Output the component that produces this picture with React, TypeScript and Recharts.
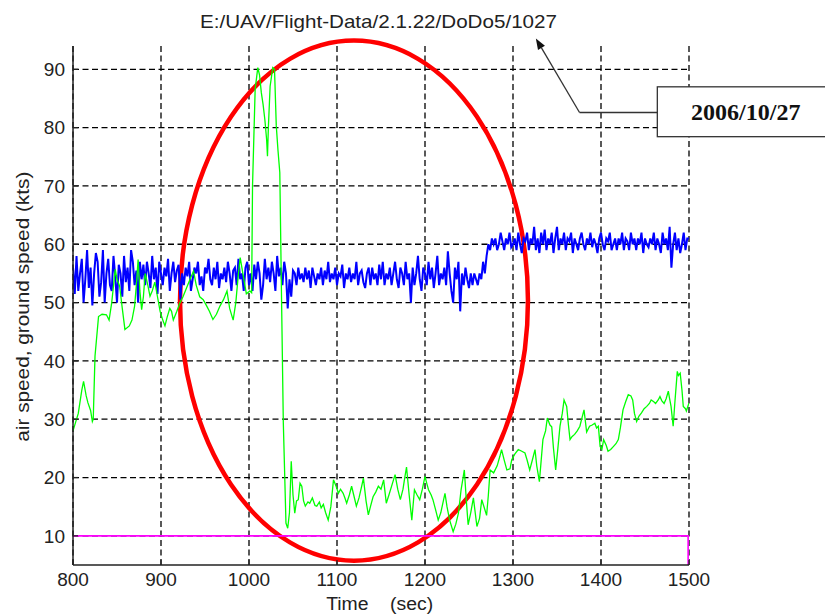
import React from 'react';
import { LineChart, Line, XAxis, YAxis, CartesianGrid, ReferenceArea, ReferenceLine } from 'recharts';

const xTicks = [800, 900, 1000, 1100, 1200, 1300, 1400, 1500];
const yTicks = [10, 20, 30, 40, 50, 60, 70, 80, 90];

const titleText = 'E:/UAV/Flight-Data/2.1.22/DoDo5/1027';
const xLabelText = 'Time    (sec)';
const yLabelText = 'air speed, ground speed (kts)';
const dateText = '2006/10/27';

// air speed (green)
const greenTime = [
  800, 806, 810, 812, 815, 817, 820, 822, 823, 825, 829, 833, 838, 841, 844, 848, 850, 853, 856, 859,
  864, 867, 870, 872, 874, 876, 878, 880, 882, 885, 887.5, 890, 893, 896, 899, 902, 904.5, 907, 910, 912,
  914, 918, 921.6, 925, 929, 933, 937, 940, 944, 948, 952, 955, 959, 963, 967, 971, 975, 978, 982, 985,
  988, 990, 993, 997, 1001, 1003, 1004, 1007, 1010, 1012, 1014, 1016, 1018, 1020, 1021, 1022, 1024, 1027, 1029, 1031,
  1033, 1035, 1037, 1039, 1042, 1044, 1046, 1048, 1050, 1052, 1054, 1056, 1058, 1060, 1062, 1064, 1067, 1069, 1072, 1075,
  1077, 1080, 1082, 1084.5, 1087, 1090, 1093, 1096, 1099, 1101.6, 1104, 1107, 1109, 1111, 1114, 1116.6, 1119, 1122, 1125, 1128,
  1130, 1133, 1135.6, 1138, 1141, 1144, 1147, 1150, 1153, 1156, 1159, 1163, 1166, 1169, 1172, 1175, 1177, 1179, 1182, 1185,
  1188, 1191, 1194, 1197, 1200, 1202, 1204, 1207, 1209, 1212, 1215, 1218, 1222.7, 1225, 1228, 1232, 1235, 1238, 1241, 1244.7,
  1247, 1249, 1252, 1255, 1259, 1262, 1264.5, 1267, 1270, 1272, 1274, 1278, 1282, 1285, 1287, 1290, 1293, 1296.6, 1298.5, 1302,
  1306, 1310, 1313.6, 1316, 1319, 1322, 1325, 1327, 1330, 1334, 1337, 1339, 1342, 1344, 1346, 1348.5, 1351, 1353.4, 1356, 1358,
  1361, 1363, 1364.8, 1367, 1370, 1373, 1376, 1378, 1380.7, 1383.7, 1387, 1390, 1393, 1395, 1397, 1399, 1401, 1403, 1406, 1408,
  1411, 1414, 1417, 1419.7, 1422, 1425, 1428, 1431, 1434, 1436, 1438, 1440.5, 1443, 1446, 1449, 1452, 1455, 1457, 1460, 1462,
  1465, 1467, 1469, 1471.7, 1474, 1476.5, 1478, 1479.6, 1482, 1484, 1486.7, 1488, 1490, 1492, 1493.5, 1496, 1497, 1500,
];
const greenSpeed = [
  28, 31, 35, 36.5, 34, 32.8, 31.5, 29.6, 30, 40.8, 47.6, 48, 47.9, 47, 50, 55.7, 54, 52.8, 49, 45.4,
  46, 47, 49.4, 53, 57.4, 52, 48.8, 51, 55, 53, 51.1, 52, 53.5, 51, 48.5, 47, 46, 47.5, 49, 48.5,
  47, 48.5, 50, 51, 52.5, 54, 55.4, 53, 51, 50.5, 49.4, 48.5, 47.1, 48, 49.4, 50.5, 52, 49, 47, 50,
  55, 57.7, 55, 51.5, 52, 51.7, 70, 86.6, 90.3, 89, 86, 84, 81.4, 78, 75.1, 80, 87.1, 90.3, 90, 80.3,
  76, 72.3, 50.5, 29.4, 12.2, 11.3, 14, 22.8, 17, 13.9, 16, 16.2, 19, 18.5, 16, 15.1, 15.8, 15.6, 16.5, 15.2,
  15.1, 15.8, 14.8, 15.4, 14, 12.7, 15, 19.6, 18.5, 17.3, 18, 17.3, 16.5, 15.6, 17, 18.5, 17, 15.1, 16.5, 18.5,
  19.9, 16, 13.6, 15, 16.7, 17.5, 18.5, 18, 19.6, 15.6, 17, 19, 20.5, 18, 16.2, 18, 20, 21.8, 17, 12.7,
  17.9, 17, 16.2, 18, 20.2, 19, 17.9, 17, 16.2, 14.5, 12.7, 14, 17.3, 15, 12.7, 10.7, 12, 13.9, 17.9, 21.3,
  16, 11.9, 14, 16.5, 11.6, 13, 16.2, 15, 13.5, 17, 21.3, 20.8, 22, 23.6, 24.8, 23, 21.3, 21.5, 23, 24,
  24.8, 24.5, 24.2, 23, 21.3, 23, 24.8, 22, 19.3, 26.5, 28, 30.2, 29, 28.7, 25, 21.3, 25, 28.8, 31, 33.3,
  32.2, 29, 26.5, 27, 27.4, 28, 28.8, 30, 31.6, 27.8, 28.8, 29, 29.3, 28.5, 28.8, 25.3, 24.8, 26.5, 25.5, 24.5,
  24.8, 25.3, 25.8, 26.5, 28.5, 31.6, 33, 34.2, 34, 33.3, 31, 29.6, 30.5, 31.1, 31.8, 32.2, 32.7, 33.3, 33, 32.7,
  33.3, 33.9, 33.2, 32.7, 33.5, 34.8, 33.5, 32.2, 28.8, 33, 38.2, 37.5, 37.9, 35, 32.2, 31.8, 31.4, 32.8,
];

// ground speed (blue), sampled every 2 s from 800 s
const blueStart = 800;
const blueStep = 2;
const blueSpeed = [
  56, 51.5, 58, 52, 55, 57.5, 50, 54, 59, 52.5,
  56, 49.5, 55, 58.5, 57, 51, 53.5, 59, 50, 55,
  57.5, 53, 52, 58, 54.5, 50, 56.5, 55, 51, 58,
  53.5, 56, 52, 59, 57, 53, 55.5, 50, 57, 54,
  56.5, 53, 57, 55, 52.5, 58, 54, 56, 51.5, 57,
  55, 53, 56, 54.5, 57.5, 52, 55, 57, 53.5, 55.5,
  56.5, 50.5, 55, 53, 56, 54.5, 57, 52, 54, 56,
  55, 57, 53, 54.5, 52, 56, 55, 57.5, 54, 53,
  56, 54, 57, 52.5, 55, 54, 56, 53.5, 57, 55,
  52, 55.5, 56, 53, 57.5, 54, 55, 52, 56, 57,
  53, 55, 52, 56.5, 54, 57, 55, 50.5, 53, 57.5,
  54, 56, 53.5, 57, 55, 52, 58, 54.5, 56, 53,
  57, 55, 49, 54, 51, 55.5, 55, 53, 56, 54,
  55, 53.5, 56, 54, 55.5, 52.5, 56, 54.5, 53, 55,
  54, 56, 53, 55.5, 54, 57, 53.5, 55, 54, 56,
  53, 55, 54.5, 56.5, 52.5, 55, 54, 56, 53.5, 55,
  54, 57, 53, 55, 55.5, 53.5, 52.5, 55, 56, 53,
  56, 54, 55, 53, 56.5, 54, 57, 53, 55, 54,
  56, 53, 55, 57, 54, 52.5, 56, 55, 53, 57,
  54, 55, 50, 56, 53, 55, 58, 54, 52, 56,
  55, 53, 57, 54, 56, 52.5, 55, 58, 53, 55,
  54, 56, 53, 58.8, 55, 52, 50, 56, 54, 57,
  48.5, 55, 53, 56, 54, 52.5, 55, 53, 55, 54,
  53, 55, 54, 57, 55, 58, 60, 59, 61, 60,
  61, 59, 60, 62, 60.5, 59, 61, 60, 62, 59.5,
  60, 61, 59, 62, 60, 58.5, 61, 60.5, 62, 59,
  61, 60, 63, 59, 61, 58.5, 62, 60, 62.5, 59,
  61, 60, 62, 58.5, 61, 63, 59, 61, 60, 62,
  59, 61, 60.5, 62, 58.5, 61, 60, 59, 61, 62,
  60, 59, 61, 60, 62, 59.5, 61, 60, 58.5, 61,
  62, 60, 59, 61, 60.5, 62, 59, 60, 61, 59,
  61, 60, 62, 59, 61, 60.5, 59, 62, 60, 61,
  59, 61, 60, 62, 58.5, 61, 60, 59.5, 61, 60,
  62, 59, 61, 60, 58.5, 62, 60, 61, 59, 63,
  56, 60, 62, 59, 61, 58.5, 60, 62, 59, 61,
  61,
];

// 10 kts reference limit (magenta)
const limitTime = [800, 1499, 1499];
const limitSpeed = [10, 10, 5];

// annotation anchors (data coords)
const ellipseX = [921.6, 1317];
const ellipseY = [5.75, 94.93];
const arrowTip = { x: 1326, y: 95.3 };
const arrowElbow = { x: 1375.6, y: 82.6 };
const boxLeft = 1464;
const boxRight = 1665;
const boxY = [78.45, 87.0];

const greenData = greenTime.map((t, i) => ({ t, v: greenSpeed[i] }));
const blueData = blueSpeed.map((v, i) => ({ t: blueStart + i * blueStep, v }));
const limitData = limitTime.map((t, i) => ({ t, v: limitSpeed[i] }));

const FONT = '"Liberation Sans", Arial, Helvetica, sans-serif';
const tickStyle = { fontSize: 19, fill: '#222', fontFamily: FONT };

const EllipseShape = (p: any) => {
  const cx = p.x + p.width / 2;
  const cy = p.y + p.height / 2;
  return (
    <ellipse cx={cx} cy={cy} rx={Math.abs(p.width) / 2} ry={Math.abs(p.height) / 2}
      fill="none" stroke="#ff0000" strokeWidth={4.5} />
  );
};

const BoxShape = (p: any) => (
  <g>
    <rect x={p.x} y={p.y} width={p.width} height={p.height} fill="#fff" stroke="#333" strokeWidth={1.3} />
    <text x={p.x + p.width / 2} y={p.y + p.height / 2} dy="0.35em" textAnchor="middle"
      fontFamily='"Liberation Serif", "Times New Roman", serif' fontWeight="bold" fontSize={24} fill="#111">
      {dateText}
    </text>
  </g>
);

const ArrowShape = (p: any) => {
  const { x1, y1, x2, y2 } = p;
  const dx = x2 - x1;
  const dy = y2 - y1;
  const len = Math.sqrt(dx * dx + dy * dy) || 1;
  const ux = dx / len;
  const uy = dy / len;
  const hl = 11;
  const hw = 4;
  const bx = x2 - ux * hl;
  const by = y2 - uy * hl;
  const pts = `${x2},${y2} ${bx - uy * hw},${by + ux * hw} ${bx + uy * hw},${by - ux * hw}`;
  return (
    <g>
      <line x1={x1} y1={y1} x2={bx} y2={by} stroke="#333" strokeWidth={1.3} />
      <polygon points={pts} fill="#111" />
    </g>
  );
};

const PlainSeg = (p: any) => (
  <line x1={p.x1} y1={p.y1} x2={p.x2} y2={p.y2} stroke="#333" strokeWidth={1.3} />
);

export default function App() {
  return (
    <div style={{ position: 'absolute', left: 0, top: 0, width: 825, height: 616, background: '#fff' }}>
      <LineChart width={825} height={616} margin={{ top: 46, right: 136, bottom: 21, left: 13 }}>
        <CartesianGrid stroke="#000" strokeWidth={1.3} strokeDasharray="6 3.5" horizontalValues={yTicks} verticalValues={xTicks} />
        <XAxis type="number" dataKey="t" domain={[800, 1500]} ticks={xTicks} allowDataOverflow
          height={30} tickSize={-5} tickMargin={13} tick={tickStyle}
          axisLine={{ stroke: '#222', strokeWidth: 1.5 }} tickLine={{ stroke: '#222', strokeWidth: 1.2 }} />
        <XAxis xAxisId="top" orientation="top" type="number" domain={[800, 1500]} ticks={xTicks} allowDataOverflow
          height={0} tickSize={-5} tick={() => null}
          axisLine={{ stroke: '#222', strokeWidth: 1.5 }} tickLine={{ stroke: '#222', strokeWidth: 1.2 }} />
        <YAxis type="number" domain={[5, 94]} ticks={yTicks} allowDataOverflow width={60}
          tickSize={-5} tickMargin={13} tick={tickStyle}
          axisLine={{ stroke: '#222', strokeWidth: 1.5 }} tickLine={{ stroke: '#222', strokeWidth: 1.2 }} />
        <YAxis yAxisId="right" orientation="right" type="number" domain={[5, 94]} ticks={yTicks} allowDataOverflow
          width={0} tickSize={-5} tick={() => null}
          axisLine={{ stroke: '#222', strokeWidth: 1.5 }} tickLine={{ stroke: '#222', strokeWidth: 1.2 }} />
        <Line data={blueData} dataKey="v" type="linear" stroke="#0000ff" strokeWidth={2} dot={false} isAnimationActive={false} />
        <Line data={greenData} dataKey="v" type="linear" stroke="#00ff00" strokeWidth={1.3} dot={false} isAnimationActive={false} />
        <Line data={limitData} dataKey="v" type="linear" stroke="#ff00ff" strokeWidth={1.6} dot={false} isAnimationActive={false} />
        <ReferenceArea x1={ellipseX[0]} x2={ellipseX[1]} y1={ellipseY[0]} y2={ellipseY[1]} ifOverflow="visible" shape={EllipseShape} />
        <ReferenceLine segment={[{ x: arrowElbow.x, y: arrowElbow.y }, { x: arrowTip.x, y: arrowTip.y }]} ifOverflow="visible" shape={ArrowShape} />
        <ReferenceLine segment={[{ x: boxLeft, y: arrowElbow.y }, { x: arrowElbow.x, y: arrowElbow.y }]} ifOverflow="visible" shape={PlainSeg} />
        <ReferenceArea x1={boxLeft} x2={boxRight} y1={boxY[0]} y2={boxY[1]} ifOverflow="visible" shape={BoxShape} />
      </LineChart>
      <svg width={825} height={616} style={{ position: 'absolute', left: 0, top: 0, pointerEvents: 'none' }}>
        <text x={378.5} y={28} textAnchor="middle" fontFamily={FONT} fontSize={19} fill="#222"
          textLength={357} lengthAdjust="spacingAndGlyphs">{titleText}</text>
        <text x={379.7} y={610} textAnchor="middle" fontFamily={FONT} fontSize={18} fill="#222"
          style={{ whiteSpace: 'pre' }} textLength={107} lengthAdjust="spacingAndGlyphs">{xLabelText}</text>
        <text x={0} y={0} transform="translate(29,306.7) rotate(-90)" textAnchor="middle" fontFamily={FONT}
          fontSize={19} fill="#222" textLength={270} lengthAdjust="spacingAndGlyphs">{yLabelText}</text>
      </svg>
    </div>
  );
}
